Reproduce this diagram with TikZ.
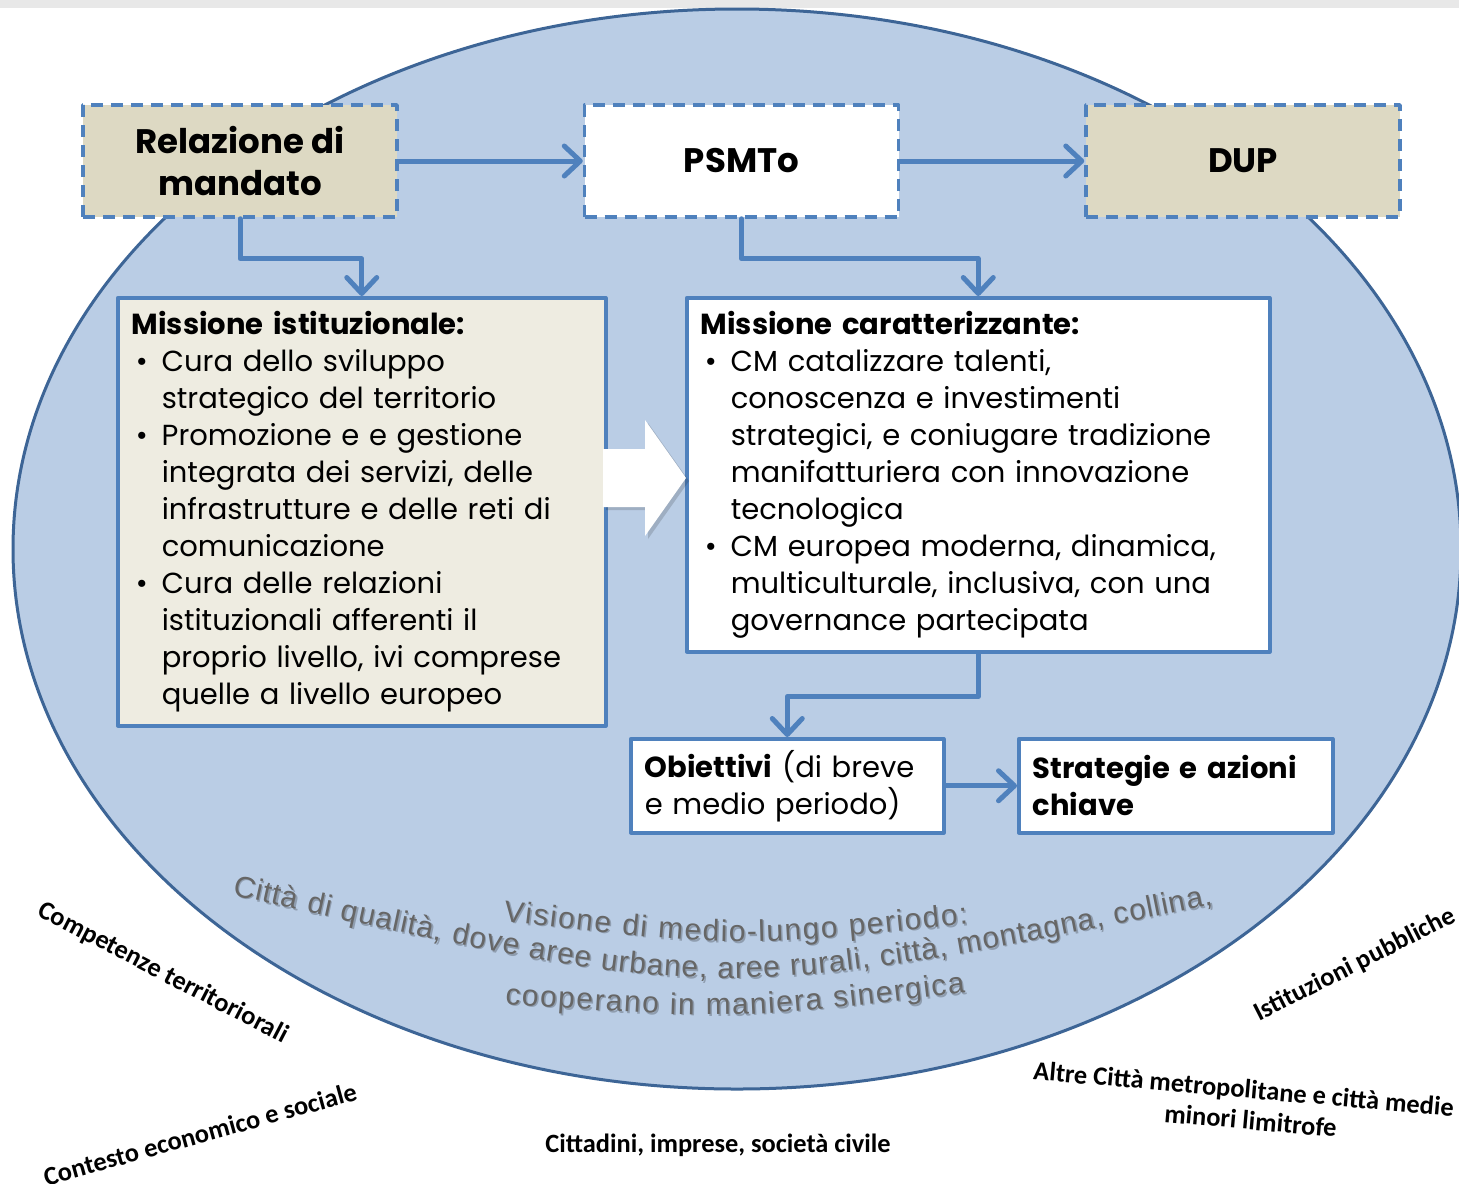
\documentclass[tikz,border=0pt]{standalone}
\usepackage{fontspec}
\setmainfont{Poppins}
\newfontfamily\labfont{Carlito}
\newfontfamily\arcfont{Liberation Sans}
\usepackage{xcolor}
\usepackage{tikz}
\usetikzlibrary{arrows.meta,decorations.text}
\definecolor{ellfill}{HTML}{BACDE5}
\definecolor{elldraw}{HTML}{3D6596}
\definecolor{boxline}{HTML}{4F81BD}
\definecolor{tan}{HTML}{DDD9C3}
\definecolor{paper}{HTML}{EEECE1}
\definecolor{arcgrey}{HTML}{666666}
\definecolor{arcshade}{HTML}{8F9DAF}
\definecolor{band}{HTML}{E8E8E8}
\newcommand{\bl}{\hspace*{2pt}\makebox[13pt][l]{\textbullet}}
\newcommand{\ind}{\hspace*{15pt}}
\tikzset{
  ell/.style={fill=ellfill, draw=elldraw, line width=1.5pt},
  dashbox/.style={draw=boxline, dash pattern=on 6pt off 4pt, line width=1.75pt,
    minimum width=157pt, minimum height=56pt, inner sep=0pt, align=center,
    font=\fontsize{17}{21}\selectfont\bfseries},
  textbox/.style={draw=boxline, line width=1.75pt, anchor=north west, align=left,
    inner xsep=7pt, inner ysep=5pt, font=\fontsize{14.5}{18.5}\selectfont},
  link/.style={draw=boxline, line width=2.5pt, line cap=round,
    -{Straight Barb[length=8pt,width=15pt,round]}},
  lab/.style={font=\labfont\bfseries\fontsize{13.2}{15.5}\selectfont},
  arctext/.style 2 args={decorate, decoration={text along path, text align=fit to path,
    text color=#1, text={|\arcfont\fontsize{15}{15}\selectfont|#2}}}
}
\newcommand{\arcline}[3]{%
  % #1 = text, #2 = start, #3 = control, end point taken from \arcend
  \path[arctext={arcshade}{#1}, shift={(1.5,1.5)}] #2 .. controls #3 .. \arcend;
  \path[arctext={arcgrey}{#1}] #2 .. controls #3 .. \arcend;
}

\begin{document}
\begin{tikzpicture}[x=0.5pt, y=-0.5pt, line join=round]
  \useasboundingbox (0,0) rectangle (1459,1183);
  \fill[white] (0,0) rectangle (1459,1183);
  \fill[band] (0,0) rectangle (1459,8);
  \draw[ell] (737,549) ellipse [x radius=724, y radius=540];

  \node[dashbox, fill=tan] (rel) at (240,161) {Relazione di\\mandato};
  \node[dashbox, fill=white] (psm) at (741.5,161) {PSMTo};
  \node[dashbox, fill=tan] (dup) at (1243,161) {DUP};

  \node[textbox, fill=paper, text width=230pt, minimum height=214pt] (missI) at (116,296) {%
    \textbf{Missione istituzionale:}\\
    \bl Cura dello sviluppo\\
    \ind strategico del territorio\\
    \bl Promozione e e gestione\\
    \ind integrata dei servizi, delle\\
    \ind infrastrutture e delle reti di\\
    \ind comunicazione\\
    \bl Cura delle relazioni\\
    \ind istituzionali afferenti il\\
    \ind proprio livello, ivi comprese\\
    \ind quelle a livello europeo};
  \node[textbox, fill=white, text width=277.5pt, minimum height=177pt] (missC) at (685,296) {%
    \textbf{Missione caratterizzante:}\\
    \bl CM catalizzare talenti,\\
    \ind conoscenza e investimenti\\
    \ind strategici, e coniugare tradizione\\
    \ind manifatturiera con innovazione\\
    \ind tecnologica\\
    \bl CM europea moderna, dinamica,\\
    \ind multiculturale, inclusiva, con una\\
    \ind governance partecipata};
  \node[textbox, fill=white, text width=142.5pt, minimum height=47pt] (obi) at (629,737) {%
    \textbf{Obiettivi} (di breve\\e medio periodo)};
  \node[textbox, fill=white, text width=143pt, minimum height=47pt] (str) at (1017,737) {%
    \textbf{Strategie e azioni}\\\textbf{chiave}};

  % big white arrow between the two missions
  \fill[black, opacity=0.15] (606,452) -- (648,452) -- (648,423) -- (689,481)
    -- (648,539) -- (648,510) -- (606,510) -- cycle;
  \fill[white] (603,449) -- (645,449) -- (645,420) -- (686,478)
    -- (645,536) -- (645,507) -- (603,507) -- cycle;

  \draw[link] (rel) -- (psm);
  \draw[link] (psm) -- (dup);
  \draw[link] (rel.south) -- ++(0,40) -| (missI.north);
  \draw[link] (psm.south) -- ++(0,40) -| (missC.north);
  \draw[link] (missC.south) -- ++(0,43) -| (obi.north);
  \draw[link] (obi) -- (str);

  \def\arcend{(1212,905)}
  \arcline{Città di qualità, dove aree urbane, aree rurali, città, montagna, collina,}{(232,895)}{(719,1004)}
  \def\arcend{(968,924)}
  \arcline{Visione di medio-lungo periodo:}{(503,921)}{(735,948)}
  \def\arcend{(965,993)}
  \arcline{cooperano in maniera sinergica}{(505,1004)}{(735,1020)}

  \node[lab, rotate=-27.5] (comp) at (163,973) {Competenze territoriorali};
  \node[lab, rotate=15.5] (ctx) at (200,1134) {Contesto economico e sociale};
  \node[lab] (citt) at (718,1145) {Cittadini, imprese, società civile};
  \node[lab, rotate=27] (ist) at (1355,965) {Istituzioni pubbliche};
  \node[lab, rotate=-5, align=center] (altre) at (1252,1105)
    {Altre Città metropolitane e città medie e\\minori limitrofe};
\end{tikzpicture}
\end{document}
